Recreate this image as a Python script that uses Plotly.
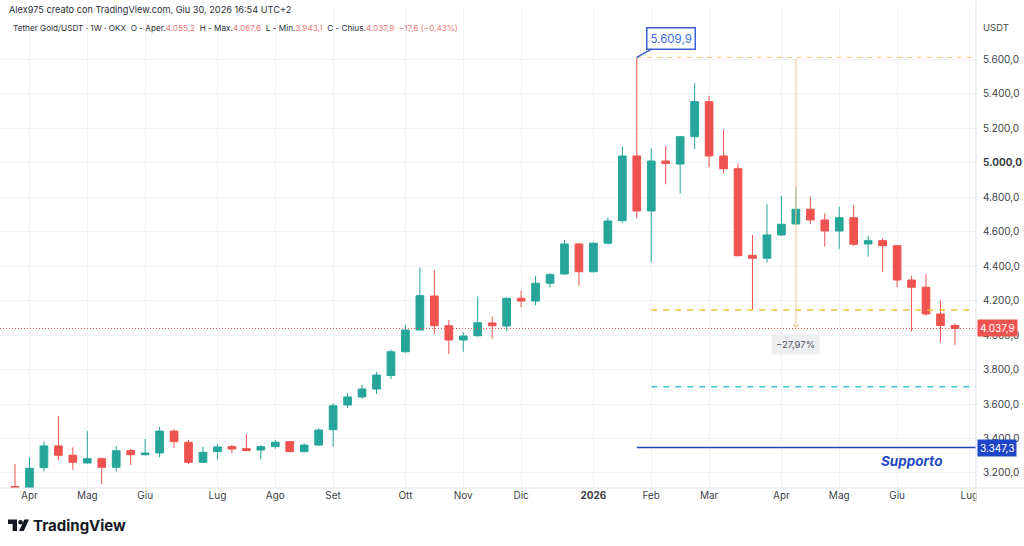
import pandas as pd
import plotly.graph_objects as go

# ---------------- data ----------------
dates = pd.date_range("2025-03-31", periods=66, freq="7D")

opens = [3122, 3100, 3231, 3357, 3303, 3258, 3283, 3233, 3330, 3306,
         3316, 3443, 3378, 3262, 3324, 3353, 3341, 3333, 3353, 3382,
         3324, 3362, 3451, 3594, 3641, 3687, 3765, 3903, 4029, 4226,
         4054, 3971, 3996, 4070, 4052, 4213, 4197, 4300, 4354, 4528,
         4367, 4532, 4663, 5038, 4719, 5009, 4991, 5150, 5353, 5038,
         4964, 4462, 4445, 4580, 4644, 4729, 4667, 4603, 4680, 4528,
         4547, 4518, 4319, 4277, 4122, 4055.2]
highs = [3252, 3291, 3382, 3530, 3349, 3443, 3290, 3357, 3340, 3397,
         3468, 3453, 3391, 3353, 3368, 3362, 3426, 3362, 3391, 3386,
         3372, 3459, 3604, 3664, 3710, 3786, 3917, 4058, 4392, 4377,
         4087, 4016, 4222, 4106, 4217, 4257, 4342, 4360, 4551, 4532,
         4536, 4680, 5092, 5609.9, 5082, 5096, 5154, 5459, 5386, 5192,
         4995, 4580, 4758, 4806, 4860, 4802, 4706, 4744, 4754, 4574,
         4561, 4522, 4342, 4354, 4203, 4067.6]
lows = [3060, 3070, 3208, 3271, 3218, 3254, 3134, 3208, 3246, 3302,
        3291, 3347, 3251, 3258, 3279, 3314, 3327, 3279, 3341, 3320,
        3318, 3357, 3353, 3577, 3629, 3658, 3745, 3897, 4025, 4006,
        3890, 3903, 3990, 3979, 4025, 4161, 4172, 4275, 4350, 4286,
        4363, 4528, 4651, 4677, 4421, 4874, 4821, 5078, 4972, 4937,
        4455, 4149, 4420, 4576, 4640, 4644, 4512, 4499, 4516, 4454,
        4367, 4277, 4019, 4112, 3955, 3943.1]
closes = [3100, 3227, 3357, 3303, 3262, 3283, 3233, 3329, 3306, 3316,
          3443, 3382, 3262, 3320, 3351, 3339, 3330, 3353, 3378, 3324,
          3362, 3449, 3590, 3641, 3687, 3768, 3903, 4029, 4228, 4054,
          3971, 3994, 4071, 4054, 4213, 4197, 4300, 4350, 4528, 4367,
          4532, 4661, 5038, 4719, 5009, 4995, 5150, 5353, 5038, 4964,
          4460, 4445, 4580, 4642, 4729, 4667, 4603, 4680, 4526, 4547,
          4518, 4319, 4277, 4122, 4055.5, 4037.9]

month_tick_dates = ["2025-04-07", "2025-05-05", "2025-06-02", "2025-07-07",
                    "2025-08-04", "2025-09-01", "2025-10-06", "2025-11-03",
                    "2025-12-01", "2026-01-05", "2026-02-02", "2026-03-02",
                    "2026-04-06", "2026-05-04", "2026-06-01", "2026-07-06"]
month_tick_text = ["Apr", "Mag", "Giu", "Lug", "Ago", "Set", "Ott", "Nov",
                   "Dic", "<b>2026</b>", "Feb", "Mar", "Apr", "Mag", "Giu", "Lug"]
price_ticks = [3200, 3400, 3600, 3800, 4000, 4200, 4400, 4600, 4800, 5000,
               5200, 5400, 5600]

peak_index = 43
peak_price = 5609.9
support_price = 3347.3
yellow_level = 4145
cyan_level = 3700
measure_index = 54
measure_end = 4040.7

# ---------------- helpers ----------------
GREEN = "#26a69a"
RED = "#ef5350"
SUPPORT_BLUE = "#2445b8"
TXT = "#2a2e39"
FONT = "Inter, Roboto, sans-serif"

PLOT_W, PLOT_BOTTOM, PLOT_TOP = 976, 488, 8


def it(v, d=1):
    s = f"{v:,.{d}f}"
    return s.replace(",", "X").replace(".", ",").replace("X", ".")


def px(x):
    return x / PLOT_W


def py(y):
    return (PLOT_BOTTOM - y) / (PLOT_BOTTOM - PLOT_TOP)


x_start = dates[0] - pd.Timedelta(days=7.26)
x_end = dates[-1] + pd.Timedelta(days=10.2)

price_text = [("<b>%s</b>" % it(p)) if p == 5000 else it(p) for p in price_ticks]

fig = go.Figure()
fig.add_trace(go.Candlestick(
    x=dates, open=opens, high=highs, low=lows, close=closes,
    increasing=dict(line=dict(color=GREEN, width=1), fillcolor=GREEN),
    decreasing=dict(line=dict(color=RED, width=1), fillcolor=RED),
    whiskerwidth=0, hoverinfo="skip", showlegend=False,
))

shapes = []
# last price dotted line
shapes.append(dict(type="line", xref="x", yref="y", x0=x_start, x1=x_end,
                   y0=closes[-1], y1=closes[-1],
                   line=dict(color=RED, width=1, dash="1px,2px")))
# peak dashed line
shapes.append(dict(type="line", xref="x", yref="y", x0=dates[peak_index], x1=x_end,
                   y0=peak_price, y1=peak_price,
                   line=dict(color="#f2c879", width=1, dash="5px,5px")))
# yellow dashed level
shapes.append(dict(type="line", xref="x", yref="y", x0=dates[peak_index + 1], x1=x_end,
                   y0=yellow_level, y1=yellow_level,
                   line=dict(color="#ecc43c", width=1.5, dash="6px,6px")))
# cyan dashed level
shapes.append(dict(type="line", xref="x", yref="y", x0=dates[peak_index + 1], x1=x_end,
                   y0=cyan_level, y1=cyan_level,
                   line=dict(color="#3cc7c9", width=1.5, dash="6px,6px")))
# support line
shapes.append(dict(type="line", xref="x", yref="y", x0=dates[peak_index], x1=x_end,
                   y0=support_price, y1=support_price,
                   line=dict(color=SUPPORT_BLUE, width=1.5)))
# clip the last month label at the pane edge
shapes.append(dict(type="rect", xref="paper", yref="paper", x0=px(976.5), x1=px(1024),
                   y0=py(510), y1=py(489), fillcolor="white", line=dict(width=0),
                   layer="above"))
# pane borders
shapes.append(dict(type="line", xref="paper", yref="paper", x0=0, x1=px(1024),
                   y0=0, y1=0, line=dict(color="#e0e3eb", width=1), layer="above"))
shapes.append(dict(type="line", xref="paper", yref="paper", x0=1, x1=1,
                   y0=py(0), y1=py(505), line=dict(color="#e0e3eb", width=1), layer="above"))
# TradingView logo glyph
shapes.append(dict(type="path", xref="paper", yref="paper", layer="above",
                   path="M %f,%f L %f,%f L %f,%f L %f,%f L %f,%f L %f,%f Z" % (
                       px(8), py(519.5), px(17), py(519.5), px(17), py(531),
                       px(12.6), py(531), px(12.6), py(524), px(8), py(524)),
                   fillcolor="#131722", line=dict(width=0)))
shapes.append(dict(type="circle", xref="paper", yref="paper", layer="above",
                   x0=px(18.2), x1=px(22.8), y0=py(524.6), y1=py(520),
                   fillcolor="#131722", line=dict(width=0)))
shapes.append(dict(type="path", xref="paper", yref="paper", layer="above",
                   path="M %f,%f L %f,%f L %f,%f L %f,%f Z" % (
                       px(24.3), py(519.5), px(29), py(519.5), px(23.8), py(531),
                       px(19), py(531)),
                   fillcolor="#131722", line=dict(width=0)))

change = closes[-1] - closes[-2]
change_pct = change / closes[-2] * 100
measure_pct = (measure_end - peak_price) / peak_price * 100


def red(s):
    return "<span style='color:#f07a78'>%s</span>" % s


header2 = ("Tether Gold/USDT · 1W · OKX  O - Aper.%s  H - Max.%s  L - Min.%s  "
           "C - Chius.%s  %s" % (red(it(opens[-1])), red(it(highs[-1])),
                                 red(it(lows[-1])), red(it(closes[-1])),
                                 red("%s (%s%%)" % (it(change).replace("-", "−"),
                                                     it(change_pct, 2).replace("-", "−")))))

annotations = [
    dict(xref="paper", yref="paper", x=px(7), y=py(10), xanchor="left", yanchor="middle",
         text="Alex975 creato con TradingView.com, Giu 30, 2026 16:54 UTC+2",
         showarrow=False, font=dict(family=FONT, size=9.2, color=TXT)),
    dict(xref="paper", yref="paper", x=px(11), y=py(28), xanchor="left", yanchor="middle",
         text=header2, showarrow=False, font=dict(family=FONT, size=8.2, color=TXT)),
    dict(xref="paper", yref="paper", x=px(996), y=py(28), xanchor="center", yanchor="middle",
         text="USDT", showarrow=False, font=dict(family=FONT, size=9.5, color="#434651")),
    # last price label
    dict(xref="paper", yref="y", x=1.0, y=closes[-1], xanchor="left", yanchor="middle",
         text=it(closes[-1]), showarrow=False, bgcolor=RED, borderpad=2,
         font=dict(family=FONT, size=10, color="white"), xshift=1),
    # support price label
    dict(xref="paper", yref="y", x=1.0, y=support_price, xanchor="left", yanchor="middle",
         text=it(support_price), showarrow=False, bgcolor="#1f47c9", borderpad=2,
         font=dict(family=FONT, size=10, color="white"), xshift=1),
    # peak callout
    dict(xref="x", yref="y", x=dates[peak_index], y=peak_price, text=it(peak_price),
         showarrow=True, arrowhead=0, arrowwidth=1.5, arrowcolor="#3a5fd0",
         ax=34, ay=-19, bgcolor="white", bordercolor="#3a5fd0", borderwidth=1.5,
         borderpad=3, font=dict(family=FONT, size=11.5, color="#3a6fe0")),
    # measurement arrow
    dict(xref="x", yref="y", x=dates[measure_index], y=measure_end,
         axref="x", ayref="y", ax=dates[measure_index], ay=peak_price,
         text="", showarrow=True, arrowhead=4, arrowsize=1, arrowwidth=1,
         arrowcolor="#f3c48a"),
    dict(xref="x", yref="y", x=dates[measure_index], y=measure_end, yanchor="top",
         yshift=-6, text=it(measure_pct, 2).replace("-", "−") + "%", showarrow=False,
         bgcolor="#eeeff1", borderpad=4, font=dict(family=FONT, size=9.5, color="#50535e")),
    # support label
    dict(xref="x", yref="y", x=dates[62], y=support_price, yanchor="top", yshift=-3,
         text="<b><i>Supporto</i></b>", showarrow=False,
         font=dict(family=FONT, size=13.5, color="#2448c4")),
    # logo text
    dict(xref="paper", yref="paper", x=px(31), y=py(525.5), xanchor="left", yanchor="middle",
         text="<b>TradingView</b>", showarrow=False,
         font=dict(family=FONT, size=15, color="#131722")),
]

fig.update_layout(
    width=1024, height=546,
    margin=dict(l=0, r=48, t=PLOT_TOP, b=546 - PLOT_BOTTOM),
    paper_bgcolor="white", plot_bgcolor="white",
    font=dict(family=FONT, size=10, color=TXT),
    showlegend=False, hovermode=False,
    boxgap=0.24,
    shapes=shapes, annotations=annotations,
    xaxis=dict(type="date", range=[x_start, x_end], rangeslider=dict(visible=False),
               tickvals=month_tick_dates, ticktext=month_tick_text,
               showgrid=True, gridcolor="#f2f3f6", gridwidth=1,
               zeroline=False, showline=False, ticks="", automargin=False,
               tickfont=dict(family=FONT, size=10, color="#3c3f48")),
    yaxis=dict(side="right", range=[3113, 5896], tickvals=price_ticks, ticktext=price_text,
               showgrid=True, gridcolor="#f2f3f6", gridwidth=1,
               zeroline=False, showline=False, ticks="", automargin=False,
               ticklabelstandoff=6,
               tickfont=dict(family=FONT, size=10, color="#3c3f48")),
)

fig.write_html("out.html")
